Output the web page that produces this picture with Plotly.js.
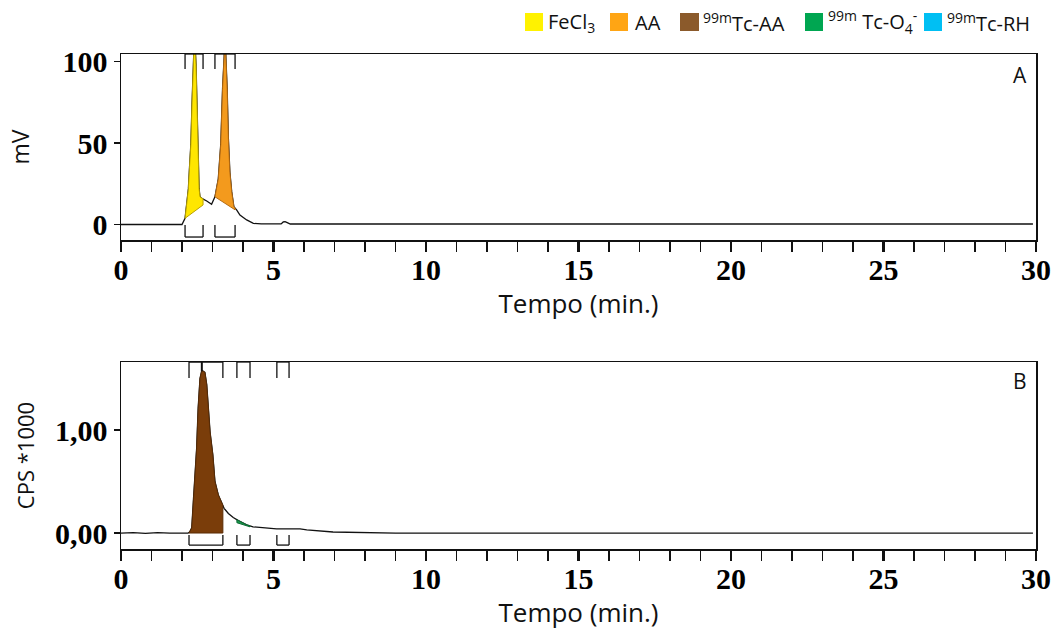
<!DOCTYPE html>
<html><head><meta charset="utf-8">
<script src="https://cdn.plot.ly/plotly-3.0.1.min.js"></script>
<style>html,body{margin:0;padding:0;background:#fff;} #chart{width:1062px;height:630px;}</style>
</head><body><div id="chart"></div>
<script>
// ---- Panel A: UV detector signal (mV) ----
const timeA = [0, 1.0, 2.0, 2.10, 2.17, 2.21, 2.24, 2.29, 2.33, 2.36, 2.41, 2.46, 2.49, 2.52, 2.56, 2.59, 2.65, 2.81, 2.97, 3.08, 3.14, 3.19, 3.27, 3.30, 3.33, 3.38, 3.41, 3.44, 3.48, 3.52, 3.57, 3.63, 3.70, 3.79, 3.90, 4.12, 4.34, 4.6, 5.25, 5.32, 5.38, 5.45, 5.55, 8, 15, 22, 29.9];
const signalA = [0, 0, 0, 3.8, 14, 22, 33, 49, 75, 98, 118, 98, 75, 49, 22, 17, 16, 14.4, 12.4, 17, 22, 28, 49, 69, 83.5, 102, 118, 102, 83.5, 53, 32, 20, 11, 9, 5.8, 2.8, 0.7, 0.4, 0.4, 1.6, 1.8, 1.2, 0.3, 0.3, 0.3, 0.3, 0.3];

// ---- Panel B: radio detector signal (CPS*1000) ----
const timeB = [0, 0.4, 0.8, 1.2, 1.6, 2.0, 2.2, 2.25, 2.32, 2.37, 2.43, 2.48, 2.53, 2.59, 2.65, 2.75, 2.81, 2.86, 2.92, 3.01, 3.08, 3.19, 3.30, 3.38, 3.52, 3.68, 3.85, 4.12, 4.33, 4.66, 5.10, 5.87, 6.09, 6.95, 7.93, 9, 12, 16, 20, 24, 28, 29.9];
const signalB = [0, 0.003, -0.003, 0.003, 0, -0.003, 0, 0.01, 0.05, 0.30, 0.56, 0.82, 1.21, 1.50, 1.58, 1.56, 1.44, 1.21, 0.98, 0.76, 0.50, 0.37, 0.30, 0.24, 0.19, 0.15, 0.12, 0.08, 0.06, 0.05, 0.04, 0.04, 0.03, 0.01, 0.005, 0, 0, 0, 0, 0, 0, 0];

// ---- Integrated peaks ----
const peakNamesA = ['FeCl3', 'AA'];
const peakStartA = [2.10, 3.08];
const peakEndA = [2.69, 3.74];
const skimStartA = [3.8, 17];
const skimEndA = [12, 9];

const peakNamesB = ['99mTc-AA', '99mTc-O4-', '99mTc-RH'];
const peakStartB = [2.23, 3.80, 5.11];
const peakEndB = [3.34, 4.23, 5.51];
const skimStartB = [0, 0.10, 0.04];
const skimEndB = [0, 0.06, 0.04];
const apexB = [2.65];

// ---- Labels / ticks ----
const legendLabels = ['FeCl<sub>3</sub>', 'AA', '<sup>99m</sup>Tc-AA', '<sup>99m</sup> Tc-O<sub>4</sub><sup>-</sup>', '<sup>99m</sup>Tc-RH'];
const xTickVals = [0, 5, 10, 15, 20, 25, 30];
const yTickValsA = [0, 50, 100];
const yTickValsB = [0, 1];
const yTickTextB = ['0,00', '1,00'];

// ---- styles ----
const fillColA = ['#ffe600', '#f39a1d'];
const edgeColA = ['#b9a200', '#b56a10'];
const fillColB = ['#7a3d0a', '#1a9a4e', null];
const edgeColB = ['#5a2c05', '#0d6b33', null];
const legendCols = ['#fff200', '#ffa514', '#8b5a2b', '#00a651', '#00bff3'];

function interp(t, ts, vs) {
  for (let i = 0; i < ts.length - 1; i++) {
    if (t >= ts[i] && t <= ts[i + 1]) {
      const f = (t - ts[i]) / (ts[i + 1] - ts[i]);
      return vs[i] + f * (vs[i + 1] - vs[i]);
    }
  }
  return vs[vs.length - 1];
}
function peakPoly(s, e, b0, b1, ts, vs) {
  const xs = [s], ys = [interp(s, ts, vs)];
  for (let i = 0; i < ts.length; i++) if (ts[i] > s && ts[i] < e) { xs.push(ts[i]); ys.push(vs[i]); }
  xs.push(e, e, s, s); ys.push(interp(e, ts, vs), b1, b0, ys[0]);
  return {xs, ys};
}

const traces = [];
traces.push({x: timeA, y: signalA, xaxis: 'x', yaxis: 'y', mode: 'lines', line: {color: '#111', width: 1.3}, hoverinfo: 'skip', showlegend: false});
traces.push({x: timeB, y: signalB, xaxis: 'x2', yaxis: 'y2', mode: 'lines', line: {color: '#111', width: 1.3}, hoverinfo: 'skip', showlegend: false});
peakNamesA.forEach((n, i) => {
  const p = peakPoly(peakStartA[i], peakEndA[i], skimStartA[i], skimEndA[i], timeA, signalA);
  traces.push({x: p.xs, y: p.ys, xaxis: 'x', yaxis: 'y', mode: 'lines', fill: 'toself', fillcolor: fillColA[i], line: {color: edgeColA[i], width: 1}, name: n, showlegend: false, hoverinfo: 'skip'});
});
peakNamesB.forEach((n, i) => {
  if (!fillColB[i]) return;
  const p = peakPoly(peakStartB[i], peakEndB[i], skimStartB[i], skimEndB[i], timeB, signalB);
  traces.push({x: p.xs, y: p.ys, xaxis: 'x2', yaxis: 'y2', mode: 'lines', fill: 'toself', fillcolor: fillColB[i], line: {color: edgeColB[i], width: 1}, name: n, showlegend: false, hoverinfo: 'skip'});
});

// geometry helpers (pixel -> paper)
const L = 121, R = 26, T = 54, B = 81, W = 1062, H = 630;
const pw = W - L - R, ph = H - T - B;
const px = v => (v - L) / pw;
const py = v => (H - B - v) / ph;

const shapes = [];
function bracket(xr, yr, s, e, y0, y1) {
  const st = {color: '#111', width: 1.3};
  shapes.push({type: 'line', xref: xr, yref: yr, x0: s, x1: s, y0: y0, y1: y1, line: st});
  shapes.push({type: 'line', xref: xr, yref: yr, x0: e, x1: e, y0: y0, y1: y1, line: st});
  shapes.push({type: 'line', xref: xr, yref: yr, x0: s, x1: e, y0: y1, y1: y1, line: st});
}
peakStartA.forEach((s, i) => {
  bracket('x', 'y domain', s, peakEndA[i], 0.92, 1.0);
  bracket('x', 'y domain', s, peakEndA[i], 0.081, 0.016);
});
peakStartB.forEach((s, i) => {
  bracket('x2', 'y2 domain', s, peakEndB[i], 0.915, 1.0);
  bracket('x2', 'y2 domain', s, peakEndB[i], 0.075, 0.021);
});
apexB.forEach(a => shapes.push({type: 'line', xref: 'x2', yref: 'y2 domain', x0: a, x1: a, y0: 0.95, y1: 1.0, line: {color: '#111', width: 2}}));

// legend squares + labels
const legX = [[525, 543], [610, 628], [680, 699], [805, 823], [924, 942]];
const legTx = [546, 633, 701, 826, 945];
const annotations = [];
legendLabels.forEach((lab, i) => {
  shapes.push({type: 'rect', xref: 'paper', yref: 'paper', x0: px(legX[i][0]), x1: px(legX[i][1]), y0: py(31), y1: py(13), fillcolor: legendCols[i], line: {width: 0}});
  annotations.push({xref: 'paper', yref: 'paper', x: px(legTx[i]), y: py(22), xanchor: 'left', yanchor: 'middle', text: lab, showarrow: false, font: {family: 'Open Sans', size: 20, color: '#111'}});
});
annotations.push({xref: 'paper', yref: 'paper', x: px(1029), y: py(75), xanchor: 'right', yanchor: 'middle', text: 'A', showarrow: false, font: {family: 'Open Sans', size: 21, color: '#111'}});
annotations.push({xref: 'paper', yref: 'paper', x: px(1029), y: py(381), xanchor: 'right', yanchor: 'middle', text: 'B', showarrow: false, font: {family: 'Open Sans', size: 21, color: '#111'}});

const tickFont = {family: 'Liberation Serif', size: 30, color: '#000', weight: 'bold'};
const titleFont = {family: 'Open Sans', size: 26, color: '#111'};
function xAxis(anchor, standoff) {
  return {
    anchor: anchor, domain: [0, 1], range: [0, 30], tickvals: xTickVals,
    showline: true, mirror: true, linecolor: '#111', linewidth: 1.5,
    ticks: 'outside', ticklen: 10, tickwidth: 2.5, tickcolor: '#111',
    minor: {dtick: 1, tick0: 0, ticks: 'outside', ticklen: 10, tickwidth: 1.2, tickcolor: '#111'},
    showgrid: false, zeroline: false, tickfont: tickFont, ticklabelstandoff: -8,
    title: {text: 'Tempo (min.)', font: titleFont, standoff: standoff}
  };
}
const layout = {
  width: W, height: H, margin: {l: L, r: R, t: T, b: B},
  paper_bgcolor: '#fff', plot_bgcolor: '#fff', showlegend: false,
  xaxis: xAxis('y', 7),
  xaxis2: xAxis('y2', 10),
  yaxis: {
    domain: [py(240), 1], range: [-9.5, 104.6], tickvals: yTickValsA, anchor: 'x',
    showline: true, mirror: true, linecolor: '#111', linewidth: 1.5,
    ticks: 'outside', ticklen: 6, tickwidth: 1.3, tickcolor: '#111',
    showgrid: false, zeroline: false, tickfont: tickFont,
    title: {text: 'mV', font: {family: 'Open Sans', size: 23, color: '#111'}, standoff: 26}
  },
  yaxis2: {
    domain: [0, py(362)], range: [-0.155, 1.66], tickvals: yTickValsB, ticktext: yTickTextB, anchor: 'x2',
    showline: true, mirror: true, linecolor: '#111', linewidth: 1.5,
    ticks: 'outside', ticklen: 6, tickwidth: 1.3, tickcolor: '#111',
    showgrid: false, zeroline: false, tickfont: tickFont,
    title: {text: 'CPS *1000', font: {family: 'Open Sans', size: 22, color: '#111'}, standoff: 14}
  },
  shapes: shapes,
  annotations: annotations
};
Plotly.newPlot('chart', traces, layout, {displayModeBar: false, staticPlot: true});
</script>
</body></html>
